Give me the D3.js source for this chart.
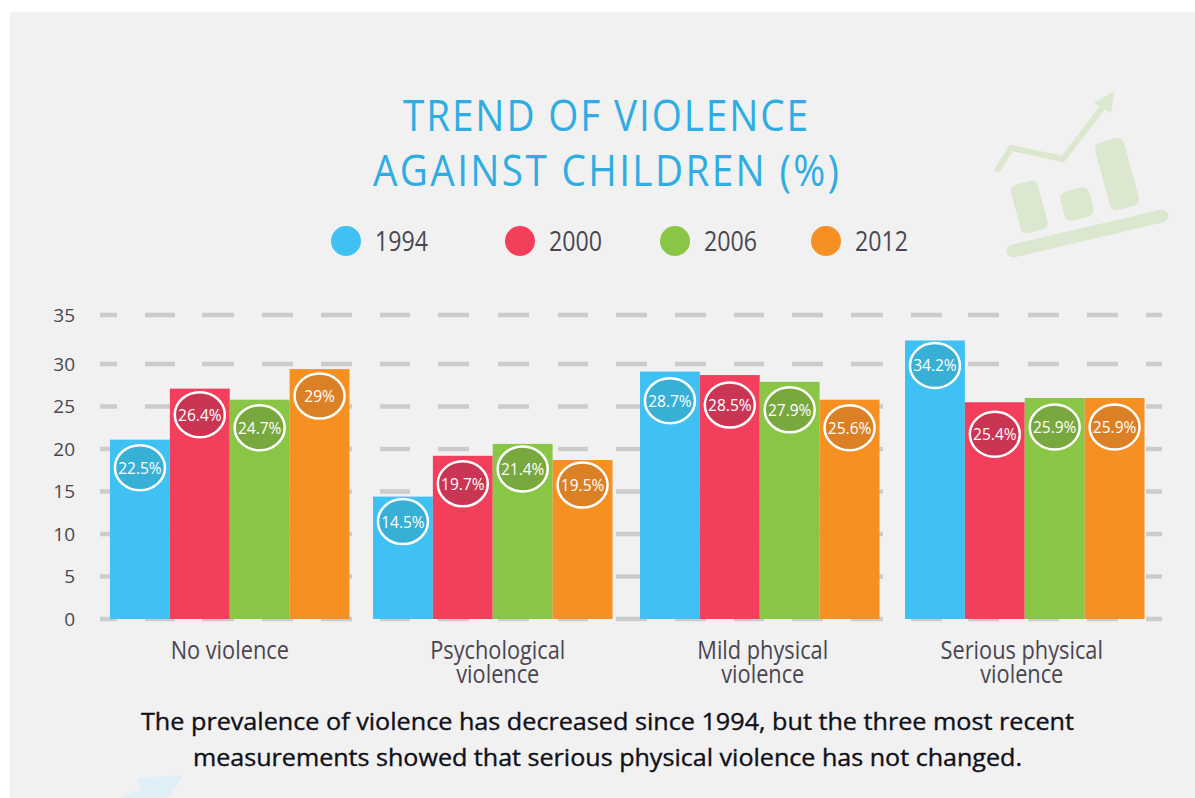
<!DOCTYPE html>
<html lang="en">
<head>
  <meta charset="UTF-8">
  <title>Trend of violence against children</title>
  <script src="https://d3js.org/d3.v7.min.js"></script>
  <style>
    html, body { margin: 0; padding: 0; background: #fff; }
    svg { display: block; }
    text { font-family: "Open Sans", sans-serif; }
    .tick text { font-size: 19px; fill: #4a4650; }
    .title { font-size: 43px; fill: #2fade3; }
    .legend-label { font-size: 27px; fill: #4a4650; }
    .cat { font-size: 25px; fill: #4a4650; text-anchor: middle; }
    .caption { font-size: 23px; fill: #101018; stroke: #101018; stroke-width: 0.35px; }
    .val { font-size: 15.5px; fill: #fff; text-anchor: middle; dominant-baseline: central; }
  </style>
</head>
<body>
  <svg></svg>
  <script>
    const years = ["1994", "2000", "2006", "2012"];
    const categories = ["No violence", "Psychological violence", "Mild physical violence", "Serious physical violence"];
    // bar heights as read against the axis (they differ from the printed labels)
    const bars1994 = [21.1, 14.4, 29.1, 32.4];
    const bars2000 = [27.1, 19.2, 28.7, 25.5];
    const bars2006 = [25.8, 20.6, 27.9, 26.0];
    const bars2012 = [29.4, 18.7, 25.8, 26.0];
    // printed labels
    const labels1994 = ["22.5%", "14.5%", "28.7%", "34.2%"];
    const labels2000 = ["26.4%", "19.7%", "28.5%", "25.4%"];
    const labels2006 = ["24.7%", "21.4%", "27.9%", "25.9%"];
    const labels2012 = ["29%", "19.5%", "25.6%", "25.9%"];
    const yTicks = [0, 5, 10, 15, 20, 25, 30, 35];

    const colors = ["#3fc1f3", "#f33f5b", "#89c646", "#f79022"];
    const bubbleColors = ["#38b0d6", "#c93553", "#79a83f", "#dc8025"];

    const barSeries = [bars1994, bars2000, bars2006, bars2012];
    const labelSeries = [labels1994, labels2000, labels2006, labels2012];

    const width = 1195, height = 798;
    const svg = d3.select("svg").attr("width", width).attr("height", height);

    // grey panel
    svg.append("rect").attr("x", 10).attr("y", 12)
      .attr("width", width - 10).attr("height", height - 12).attr("fill", "#f1f1f1");

    // faded decoration top right
    const deco = svg.append("g").attr("fill", "#dbe8cf");
    deco.append("path").attr("fill", "none").attr("stroke", "#dbe8cf").attr("stroke-width", 6)
      .attr("stroke-linecap", "round").attr("stroke-linejoin", "round")
      .attr("d", "M998,169 L1011,148 L1063,159 L1102,108");
    deco.append("path").attr("d", "M1094,103 L1114,91 L1111,113 Z");
    deco.append("rect").attr("x", -14).attr("y", -24).attr("width", 28).attr("height", 50).attr("rx", 6)
      .attr("transform", "translate(1029,206) rotate(-15)");
    deco.append("rect").attr("x", -15).attr("y", -15).attr("width", 30).attr("height", 30).attr("rx", 7)
      .attr("transform", "translate(1077,204) rotate(-15)");
    deco.append("rect").attr("x", -15).attr("y", -35).attr("width", 30).attr("height", 70).attr("rx", 7)
      .attr("transform", "translate(1117,174) rotate(-15)");
    deco.append("line").attr("x1", 1013).attr("y1", 251).attr("x2", 1162).attr("y2", 216)
      .attr("stroke", "#dbe8cf").attr("stroke-width", 13).attr("stroke-linecap", "round");
    // faded arrow bottom left
    svg.append("path").attr("fill", "#dfeff7")
      .attr("d", "M137,778 L183,775 L167,798 L120,798 L141,789 Z");

    // title, squeezed and letterspaced like the condensed original
    const titleSqueeze = 0.9;
    const title = svg.append("g").attr("class", "title");
    title.append("text").attr("transform", `translate(403,131) scale(${titleSqueeze},1)`)
      .attr("textLength", 405 / titleSqueeze).attr("lengthAdjust", "spacing").text("TREND OF VIOLENCE");
    title.append("text").attr("transform", `translate(373,186) scale(${titleSqueeze},1)`)
      .attr("textLength", 466 / titleSqueeze).attr("lengthAdjust", "spacing").text("AGAINST CHILDREN (%)");

    // legend
    const legendX = d3.scaleOrdinal().domain(years).range([346, 520, 675, 826]);
    const legend = svg.append("g").selectAll("g").data(years).join("g")
      .attr("transform", d => `translate(${legendX(d)},241)`);
    legend.append("circle").attr("r", 15).attr("fill", (d, i) => colors[i]);
    legend.append("text").attr("class", "legend-label").attr("x", 29).attr("y", 10)
      .attr("textLength", 53).attr("lengthAdjust", "spacingAndGlyphs").text(d => d);

    // scales: the source axis has a slightly taller top step, and uneven group gaps
    const y = d3.scaleLinear().domain([0, 30, 35]).range([619, 364, 315]);
    const x0 = d3.scaleOrdinal().domain(categories).range([110, 373, 640, 905]);
    const groupWidth = 239.5;
    const x1 = d3.scaleBand().domain(years).range([0, groupWidth]);

    // dashed grid behind the bars, dash lengths measured off the source
    const gridDash = [17, 28, 30, 27, 32, 28, 31, 28, 31, 28, 30, 28, 31, 29, 31, 29, 30, 28, 31, 28,
      31, 28, 30, 28, 31, 28, 32, 28, 31, 26, 31, 29, 31, 28, 31, 28, 17];
    svg.append("g").selectAll("line").data(yTicks).join("line")
      .attr("x1", 100).attr("x2", 1162)
      .attr("y1", d => y(d)).attr("y2", d => y(d))
      .attr("stroke", "#cccccc").attr("stroke-width", 4.5)
      .attr("stroke-dasharray", gridDash.join(" "));

    const yAxis = d3.axisLeft(y).tickValues(yTicks).tickSize(0).tickPadding(0);
    svg.append("g").attr("transform", "translate(75,0)").call(yAxis)
      .call(g => g.select(".domain").remove());

    // bars
    const groups = svg.append("g").selectAll("g").data(categories).join("g")
      .attr("transform", d => `translate(${x0(d)},0)`);
    const cells = (c, ci) => years.map((yr, si) => ({ yr, si, ci, v: barSeries[si][ci], label: labelSeries[si][ci] }));
    groups.selectAll("rect").data(cells).join("rect")
      .attr("x", d => x1(d.yr))
      .attr("width", x1.bandwidth())
      .attr("y", d => y(d.v))
      .attr("height", d => y(0) - y(d.v))
      .attr("fill", d => colors[d.si]);

    // bubbles sit a bit under the bar top
    const bubbleDrop = [[28, 26, 28, 27], [25, 28, 25, 25], [29, 30, 28, 28], [25, 32, 29, 29]];
    const bubbles = groups.selectAll("g.bubble").data(cells).join("g").attr("class", "bubble")
      .attr("transform", d => `translate(${x1(d.yr) + x1.bandwidth() / 2},${y(d.v) + bubbleDrop[d.ci][d.si]})`);
    bubbles.append("ellipse").attr("rx", 25).attr("ry", 22.5)
      .attr("fill", d => bubbleColors[d.si]).attr("stroke", "#fff").attr("stroke-width", 2.5);
    bubbles.append("text").attr("class", "val").text(d => d.label);

    // category labels, wrapped on the last space; the original lines sit tight
    const catNudge = [0, 5, 3, -3];
    const catLabels = svg.append("g").selectAll("text").data(categories).join("text")
      .attr("class", "cat")
      .attr("transform", (d, i) => `translate(${x0(d) + groupWidth / 2 + catNudge[i]},659) scale(0.87,1)`);
    catLabels.each(function (d) {
      const parts = d === "No violence" ? [d] : [d.slice(0, d.lastIndexOf(" ")), d.slice(d.lastIndexOf(" ") + 1)];
      d3.select(this).selectAll("tspan").data(parts).join("tspan")
        .attr("x", 0).attr("dy", (p, i) => i ? 24 : 0).text(p => p);
    });

    // caption
    const captionLines = [
      "The prevalence of violence has decreased since 1994, but the three most recent",
      "measurements showed that serious physical violence has not changed."
    ];
    svg.append("g").selectAll("text").data(captionLines).join("text")
      .attr("class", "caption")
      .attr("x", (d, i) => i ? 193 : 141)
      .attr("y", (d, i) => i ? 766 : 730)
      .attr("textLength", (d, i) => i ? 829 : 933)
      .attr("lengthAdjust", "spacingAndGlyphs")
      .text(d => d);
  </script>
</body>
</html>
